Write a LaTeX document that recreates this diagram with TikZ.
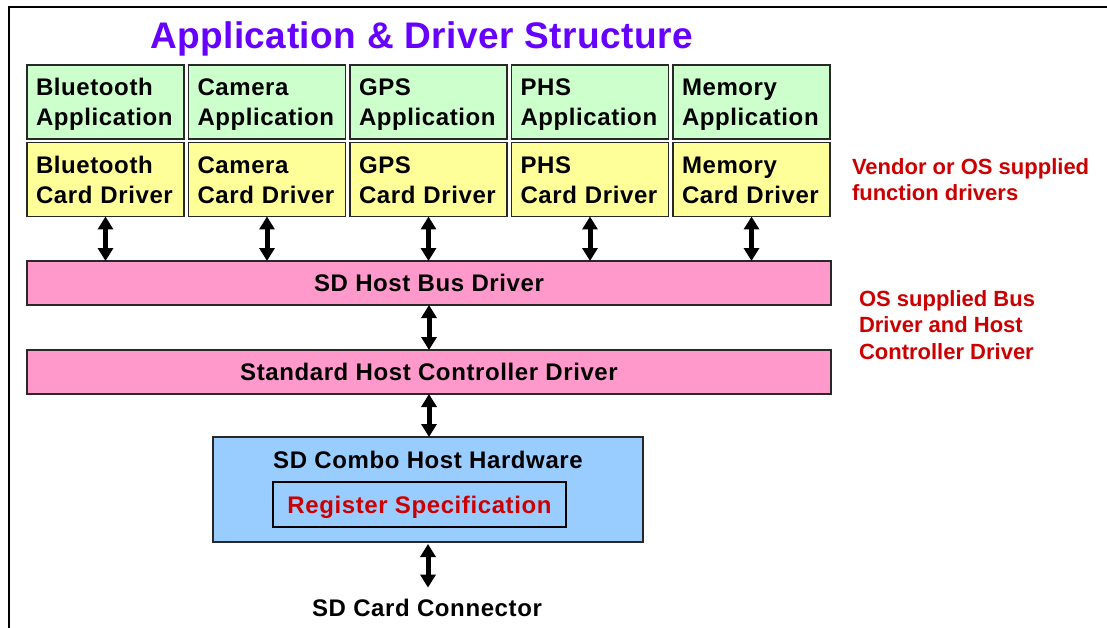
\documentclass[tikz,border=0pt]{standalone}
\usepackage{fontspec}
\setmainfont{Liberation Sans}
\usetikzlibrary{arrows.meta}
\definecolor{titlepurple}{RGB}{102,0,255}
\definecolor{labelred}{RGB}{204,0,0}
\definecolor{appgreen}{RGB}{204,255,204}
\definecolor{drvyellow}{RGB}{255,255,153}
\definecolor{buspink}{RGB}{255,153,204}
\definecolor{hwblue}{RGB}{153,204,255}
\definecolor{edgegray}{RGB}{40,40,40}
\newcommand{\twolines}[2]{\rule{0pt}{23.5pt}#1\\#2\rule[-5.5pt]{0pt}{5.5pt}}
\newcommand{\boxfont}{\fontsize{24}{30}\selectfont\bfseries\addfontfeatures{LetterSpace=2.5}}
\begin{document}
\begin{tikzpicture}[x=1pt,y=-1pt,
  every node/.style={inner sep=0pt, outer sep=0pt},
  cardbox/.style={draw=edgegray, line width=1.6pt, minimum width=157pt, minimum height=74pt,
    text width=139pt, align=left, font=\boxfont},
  appbox/.style={cardbox, fill=appgreen},
  drvbox/.style={cardbox, fill=drvyellow},
  barbox/.style={draw=edgegray, line width=1.6pt, fill=buspink, minimum width=804pt, minimum height=44pt,
    font=\boxfont},
  redlabel/.style={text=labelred, align=left, font=\fontsize{22}{26.5}\selectfont\bfseries},
  dblarrow/.style={line width=5pt, {Triangle[width=15pt,length=13pt]}-{Triangle[width=15pt,length=13pt]}}
]
\clip (0,0) rectangle (1107,628);
\useasboundingbox (0,0) rectangle (1107,628);
\fill[white] (0,0) rectangle (1107,628);
\draw[line width=1.6pt] (9,660) -- (9,7) -- (1130,7);

\node[anchor=base, text=titlepurple, font=\fontsize{37}{40}\selectfont\bfseries\addfontfeatures{LetterSpace=1.3}] (title) at (421.5,48.5) {Application \& Driver Structure};

\node[appbox] (a1) at (105.5,102) {\twolines{Bluetooth}{Application}};
\node[appbox] (a2) at (267,102) {\twolines{Camera}{Application}};
\node[appbox] (a3) at (428.5,102) {\twolines{GPS}{Application}};
\node[appbox] (a4) at (590,102) {\twolines{PHS}{Application}};
\node[appbox] (a5) at (751.5,102) {\twolines{Memory}{Application}};

\node[drvbox] (d1) at (105.5,179.5) {\twolines{Bluetooth}{Card Driver}};
\node[drvbox] (d2) at (267,179.5) {\twolines{Camera}{Card Driver}};
\node[drvbox] (d3) at (428.5,179.5) {\twolines{GPS}{Card Driver}};
\node[drvbox] (d4) at (590,179.5) {\twolines{PHS}{Card Driver}};
\node[drvbox] (d5) at (751.5,179.5) {\twolines{Memory}{Card Driver}};

\node[barbox] (bus) at (429,283) {SD Host Bus Driver};
\node[barbox] (hc) at (429,372) {Standard Host Controller Driver};

\node[draw=edgegray, line width=1.6pt, fill=hwblue, minimum width=430pt, minimum height=105pt] (hw) at (428,489.5) {};
\node[anchor=base, font=\boxfont] (hwtext) at (428,468) {SD Combo Host Hardware};
\node[draw=black, line width=1.6pt, fill=hwblue, minimum width=293pt, minimum height=45pt, text depth=0pt,
  text=labelred, font=\boxfont] (reg) at (419.5,504.5) {Register Specification};

\node[anchor=base, inner ysep=11pt, font=\boxfont] (conn) at (427,616) {SD Card Connector};

\node[redlabel, anchor=west] (lab1) at (852,179.5) {Vendor or OS supplied\\function drivers};
\node[redlabel, anchor=west] (lab2) at (859,325) {OS supplied Bus\\Driver and Host\\Controller Driver};

\foreach \i in {1,...,5}{
  \draw[dblarrow] (d\i.south) -- (d\i.south |- bus.north);
}
\draw[dblarrow] (bus.south) -- (hc.north);
\draw[dblarrow] (hc.south) -- (hc.south |- hw.north);
\draw[dblarrow, shorten <=2pt] (hw.south) -- (hw.south |- conn.north);
\end{tikzpicture}
\end{document}
